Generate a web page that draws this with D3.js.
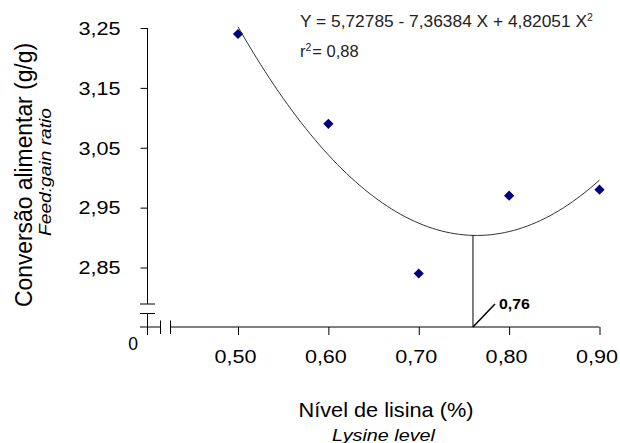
<!DOCTYPE html>
<html>
<head>
<meta charset="utf-8">
<script src="https://cdn.jsdelivr.net/npm/d3@7"></script>
<style>
  body { margin: 0; background: #fff; }
  svg { display: block; font-family: "Liberation Sans", Arial, sans-serif; }
</style>
</head>
<body>
<div id="chart"></div>
<script>
// data
var lysineLevels = [0.50, 0.60, 0.70, 0.80, 0.90];
var feedGain = [3.24, 3.09, 2.84, 2.97, 2.98];
var yTicks = [2.85, 2.95, 3.05, 3.15, 3.25];
var xTicks = [0.50, 0.60, 0.70, 0.80, 0.90];
var optimumLevel = [0.76];
var equationText = ["Y = 5,72785 - 7,36384 X + 4,82051 X", "2"];
var r2Text = ["r", "2", "= 0,88"];

var svgWidth = 620;
var svgHeight = 443;

var svg = d3.select("#chart")
  .append("svg")
  .attr("width", svgWidth)
  .attr("height", svgHeight);

// comma as decimal separator
var locale = d3.formatLocale({ decimal: ",", thousands: ".", grouping: [3], currency: ["", ""] });
var fmt = locale.format(".2f");

var xScale = d3.scaleLinear().domain([0.5, 0.9]).range([238, 599.5]);
var yScale = d3.scaleLinear().domain([2.85, 3.25]).range([267.5, 28]);

var axisX = 147.5;   // y axis position
var baseY = 327;     // x axis position (the "0" line)

// least squares quadratic fit of the points (this is the drawn trend line)
function quadFit(xs, ys) {
  var n = xs.length, s = [0, 0, 0, 0, 0], t = [0, 0, 0];
  for (var i = 0; i < n; i++) {
    for (var k = 0; k < 5; k++) s[k] += Math.pow(xs[i], k);
    for (var k = 0; k < 3; k++) t[k] += ys[i] * Math.pow(xs[i], k);
  }
  var A = [[s[0], s[1], s[2], t[0]], [s[1], s[2], s[3], t[1]], [s[2], s[3], s[4], t[2]]];
  for (var c = 0; c < 3; c++) {
    for (var r = c + 1; r < 3; r++) {
      var f = A[r][c] / A[c][c];
      for (var k = c; k < 4; k++) A[r][k] -= f * A[c][k];
    }
  }
  var b = [0, 0, 0];
  for (var r = 2; r >= 0; r--) {
    var v = A[r][3];
    for (var k = r + 1; k < 3; k++) v -= A[r][k] * b[k];
    b[r] = v / A[r][r];
  }
  return function(x) { return b[0] + b[1] * x + b[2] * x * x; };
}
var fit = quadFit(lysineLevels, feedGain);

// y axis ticks
var leftAxis = d3.axisLeft(yScale).tickValues(yTicks).tickFormat(fmt).tickSize(7).tickSizeOuter(0).tickPadding(20);
var gy = svg.append("g").attr("transform", `translate(${axisX},0)`).call(leftAxis);
gy.select(".domain").remove();
gy.selectAll("text")
  .attr("font-size", 17.5)
  .attr("font-family", "Liberation Sans, Arial, sans-serif")
  .attr("fill", "#000")
  .attr("dy", "0.36em")
  .attr("textLength", 42)
  .attr("lengthAdjust", "spacingAndGlyphs");

// x axis ticks
var bottomAxis = d3.axisBottom(xScale).tickValues(xTicks).tickFormat(fmt).tickSize(8).tickSizeOuter(0).tickPadding(16);
var gx = svg.append("g").attr("transform", `translate(0,${baseY})`).call(bottomAxis);
gx.select(".domain").remove();
gx.selectAll("text")
  .attr("font-size", 17.5)
  .attr("font-family", "Liberation Sans, Arial, sans-serif")
  .attr("fill", "#000")
  .attr("dx", -3)
  .attr("textLength", 42)
  .attr("lengthAdjust", "spacingAndGlyphs");

// axis lines with breaks
var axisLines = svg.append("g").attr("stroke", "#000").attr("stroke-width", 1).attr("fill", "none");
axisLines.append("path").attr("d", `M${axisX},${yScale(3.25)}V304M140,304H155M140,313.5H155M${axisX},313.5V335`);
axisLines.append("path").attr("d", `M140,${baseY}H160.5M160.5,320.5V334M170.5,320.5V334M170.5,${baseY}H${xScale(0.9)}`);

svg.append("text")
  .attr("x", 133).attr("y", 350)
  .attr("text-anchor", "middle")
  .attr("font-size", 17.5)
  .text("0");

// fitted curve
var curveX = d3.range(0.5, 0.9001, 0.005);
var line = d3.line()
  .x(d => xScale(d))
  .y(d => yScale(fit(d)))
  .curve(d3.curveMonotoneX);
svg.append("path")
  .datum(curveX)
  .attr("d", line)
  .attr("fill", "none")
  .attr("stroke", "#333")
  .attr("stroke-width", 1);

// optimum marker line
svg.append("line")
  .attr("x1", xScale(optimumLevel[0])).attr("x2", xScale(optimumLevel[0]))
  .attr("y1", yScale(fit(optimumLevel[0]))).attr("y2", baseY)
  .attr("stroke", "#000").attr("stroke-width", 1);
svg.append("line")
  .attr("x1", xScale(optimumLevel[0])).attr("y1", baseY)
  .attr("x2", xScale(optimumLevel[0]) + 22).attr("y2", baseY - 23)
  .attr("stroke", "#000").attr("stroke-width", 1.5);
svg.append("text")
  .attr("x", xScale(optimumLevel[0]) + 26).attr("y", 309)
  .attr("font-size", 14.5).attr("font-weight", "bold")
  .attr("textLength", 31).attr("lengthAdjust", "spacingAndGlyphs")
  .text(fmt(optimumLevel[0]));

// points
svg.selectAll(".pt")
  .data(lysineLevels)
  .enter()
  .append("path")
  .attr("class", "pt")
  .attr("d", d3.symbol().type(d3.symbolSquare).size(52))
  .attr("transform", (d, i) => `translate(${xScale(d)},${yScale(feedGain[i])}) rotate(45)`)
  .attr("fill", "#000080");

// equation
var eq = svg.append("text")
  .attr("x", 300).attr("y", 27)
  .attr("font-size", 16.5)
  .attr("fill", "#222");
eq.append("tspan")
  .attr("textLength", 287).attr("lengthAdjust", "spacingAndGlyphs")
  .text(equationText[0]);
eq.append("tspan").attr("dy", -6).attr("font-size", 10.5).text(equationText[1]);

var r2 = svg.append("text")
  .attr("x", 300).attr("y", 57)
  .attr("font-size", 16.5)
  .attr("fill", "#222");
r2.append("tspan").text(r2Text[0]);
r2.append("tspan").attr("dy", -6).attr("font-size", 10.5).text(r2Text[1]);
r2.append("tspan").attr("dy", 6).attr("dx", 1).text(r2Text[2]);

// axis titles
svg.append("text")
  .attr("transform", "translate(31.5,175) rotate(-90)")
  .attr("text-anchor", "middle")
  .attr("font-size", 23)
  .attr("textLength", 264).attr("lengthAdjust", "spacingAndGlyphs")
  .text("Conversão alimentar (g/g)");
svg.append("text")
  .attr("transform", "translate(51,172) rotate(-90)")
  .attr("text-anchor", "middle")
  .attr("font-size", 16.5)
  .attr("font-style", "italic")
  .attr("textLength", 128).attr("lengthAdjust", "spacingAndGlyphs")
  .text("Feed:gain ratio");
svg.append("text")
  .attr("x", 386).attr("y", 417)
  .attr("text-anchor", "middle")
  .attr("font-size", 21)
  .attr("textLength", 175).attr("lengthAdjust", "spacingAndGlyphs")
  .text("Nível de lisina (%)");
svg.append("text")
  .attr("x", 383.5).attr("y", 441)
  .attr("text-anchor", "middle")
  .attr("font-size", 16.5)
  .attr("font-style", "italic")
  .attr("textLength", 103).attr("lengthAdjust", "spacingAndGlyphs")
  .text("Lysine level");
</script>
</body>
</html>
